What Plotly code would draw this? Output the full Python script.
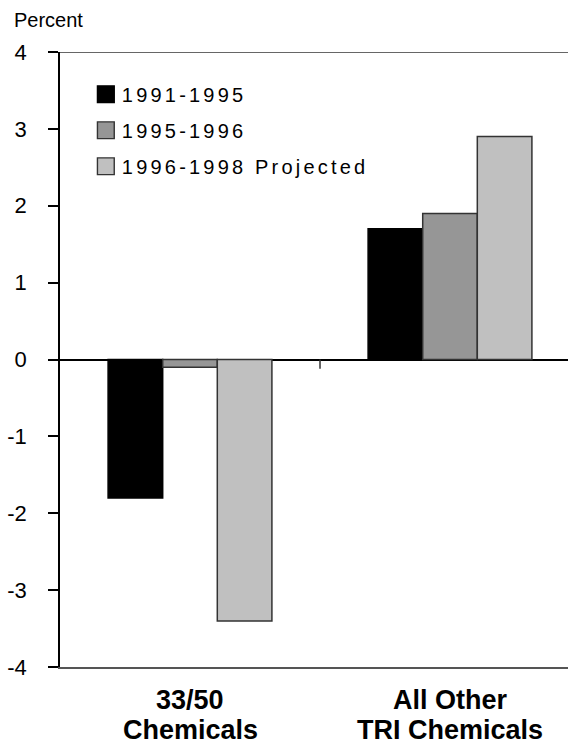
import plotly.graph_objects as go

categories = ["33/50 Chemicals", "All Other TRI Chemicals"]
label_line1 = ["33/50", "All Other"]
label_line2 = ["Chemicals", "TRI Chemicals"]
series_names = ["1991-1995", "1995-1996", "1996-1998 Projected"]
values_1991_1995 = [-1.8, 1.7]
values_1995_1996 = [-0.1, 1.9]
values_1996_1998 = [-3.4, 2.9]
y_ticks = [-4, -3, -2, -1, 0, 1, 2, 3, 4]
y_tick_labels = ["-4", "-3", "-2", "-1", "0", "1", "2", "3", "4"]

series_values = [values_1991_1995, values_1995_1996, values_1996_1998]
fills = ["#000000", "#969696", "#C0C0C0"]
outlines = ["#000000", "#333333", "#333333"]

FONT = "Arial, 'Liberation Sans', sans-serif"

fig = go.Figure()
for i, (name, vals) in enumerate(zip(series_names, series_values)):
    fig.add_trace(go.Bar(
        x=categories, y=vals, name=name,
        marker=dict(color=fills[i], line=dict(color=outlines[i], width=1.5)),
        legendgroup=f"g{i}",
    ))

annotations = [
    dict(text="Percent", xref="paper", yref="paper", x=0, y=1, xanchor="left",
         yanchor="middle", xshift=-48, yshift=32, showarrow=False,
         font=dict(size=20, color="black", family=FONT)),
]
for cat, l1, l2 in zip(categories, label_line1, label_line2):
    annotations.append(dict(text=l1, x=cat, xref="x", yref="paper", y=0, yanchor="middle",
                            yshift=-33, showarrow=False,
                            font=dict(size=27, color="black", family=FONT, weight="bold")))
    annotations.append(dict(text=l2, x=cat, xref="x", yref="paper", y=0, yanchor="middle",
                            yshift=-63, showarrow=False,
                            font=dict(size=27, color="black", family=FONT, weight="bold")))

fig.update_layout(
    width=568, height=749,
    margin=dict(l=60, r=0, t=52, b=82),
    paper_bgcolor="white", plot_bgcolor="white",
    font=dict(family=FONT, color="black"),
    barmode="group", bargap=0.37, bargroupgap=0,
    showlegend=True,
    legend=dict(x=0.043, y=0.963, xanchor="left", yanchor="top",
                bgcolor="rgba(0,0,0,0)", font=dict(size=20, family=FONT),
                traceorder="grouped", tracegroupgap=7,
                entrywidth=300, entrywidthmode="pixels"),
    xaxis=dict(type="category", range=[-0.5, 1.4538], showticklabels=False, ticks="",
               showline=True, linecolor="#555555", linewidth=2, showgrid=False,
               zeroline=False, fixedrange=True),
    yaxis=dict(range=[-4, 4], tickvals=y_ticks, ticktext=y_tick_labels,
               ticks="outside", ticklen=10,
               tickwidth=1.5, tickcolor="black", showline=True, linecolor="black",
               linewidth=1.5, zeroline=True, zerolinecolor="black", zerolinewidth=1.5,
               showgrid=False, tickfont=dict(size=22, family=FONT),
               ticklabelstandoff=17),
    annotations=annotations,
    shapes=[
        dict(type="line", xref="x domain", yref="y", x0=0, x1=1, y0=4, y1=4,
             line=dict(color="#333333", width=1.3)),
        dict(type="line", xref="x", yref="y", x0=0.5, x1=0.5, y0=0, y1=-0.12,
             line=dict(color="#333333", width=1.5)),
    ],
)

post = """
document.body.style.margin = '0';
document.body.style.padding = '0';
function applySpacing(){
  document.querySelectorAll('.legend .scrollbox').forEach(function(e){e.removeAttribute('clip-path');});
  document.querySelectorAll('.legendtext').forEach(function(t){t.style.letterSpacing='3.2px';});
  document.querySelectorAll('.legend .legendpoints path').forEach(function(p){
    if (!p.hasAttribute('data-orig-tf')) {
      p.setAttribute('data-orig-tf', p.getAttribute('transform') || '');
    }
    var orig = p.getAttribute('data-orig-tf');
    p.setAttribute('transform', orig + ' translate(4,0) scale(1.4)');
    p.style.strokeWidth = '1px';
  });
}
applySpacing();
setTimeout(applySpacing, 50);
setTimeout(applySpacing, 300);
"""
fig.write_html("out.html", post_script=post, config={"displayModeBar": False})
